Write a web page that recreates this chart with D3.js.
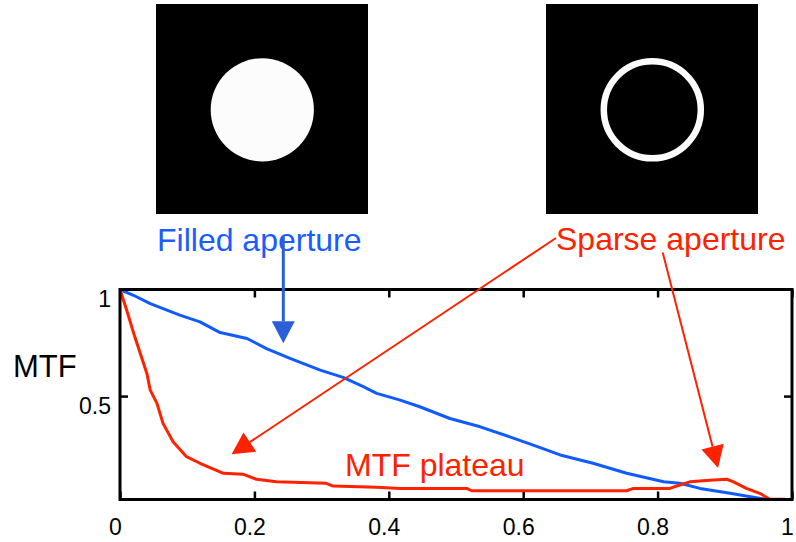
<!DOCTYPE html>
<html>
<head>
<meta charset="utf-8">
<script src="https://cdn.jsdelivr.net/npm/d3@7"></script>
<style>
  html, body { margin: 0; padding: 0; background: #fff; }
  svg { display: block; font-family: "Liberation Sans", Arial, Helvetica, sans-serif; }
</style>
</head>
<body>
<svg width="796" height="542"></svg>
<script>
// spatial frequency (normalised) and MTF
var filledFreq = [0, 0.02, 0.045, 0.089, 0.119, 0.149, 0.189, 0.218, 0.253, 0.298, 0.332, 0.362, 0.382, 0.417,
                  0.446, 0.491, 0.536, 0.58, 0.615, 0.655, 0.704, 0.754, 0.809, 0.833, 0.863, 0.908, 0.938, 0.962, 0.99];
var filledMTF  = [1, 0.973, 0.934, 0.88, 0.848, 0.798, 0.77, 0.723, 0.677, 0.622, 0.588, 0.544, 0.513, 0.481,
                  0.45, 0.395, 0.356, 0.309, 0.27, 0.224, 0.185, 0.138, 0.098, 0.091, 0.067, 0.044, 0.028, 0.015, 0.015];

var sparseFreq = [0, 0.01, 0.022, 0.04, 0.045, 0.055, 0.064, 0.079, 0.099, 0.119, 0.154, 0.183, 0.203, 0.233,
                  0.307, 0.317, 0.382, 0.417, 0.516, 0.523, 0.754, 0.764, 0.818, 0.833, 0.848, 0.883, 0.903,
                  0.913, 0.932, 0.952, 0.967, 0.99];
var sparseMTF  = [1, 0.903, 0.778, 0.606, 0.528, 0.466, 0.372, 0.286, 0.216, 0.185, 0.138, 0.134, 0.11, 0.098,
                  0.091, 0.078, 0.072, 0.067, 0.067, 0.056, 0.056, 0.067, 0.067, 0.083, 0.098, 0.106, 0.11,
                  0.098, 0.067, 0.044, 0.016, 0.016];

var xTicks = [0, 0.2, 0.4, 0.6, 0.8, 1];
var yTicks = [0.5, 1];

(function () {
  var svg = d3.select("svg");

  var pLeft = 120, pRight = 792, pTop = 289.5, pBottom = 499.5;

  var x = d3.scaleLinear().domain([0, 1]).range([pLeft, pRight]);
  var y = d3.scaleLinear().domain([0.015, 1]).range([pBottom, pTop]);

  // aperture pictures
  var pics = svg.append("g");
  pics.append("rect").attr("x", 156).attr("y", 4).attr("width", 212).attr("height", 210).attr("fill", "#000");
  pics.append("circle").attr("cx", 262.3).attr("cy", 109.8).attr("r", 51.6).attr("fill", "#fcfcfc");
  pics.append("rect").attr("x", 546).attr("y", 4).attr("width", 212).attr("height", 210).attr("fill", "#000");
  pics.append("circle").attr("cx", 652.3).attr("cy", 109.8).attr("r", 48.5)
      .attr("fill", "none").attr("stroke", "#fcfcfc").attr("stroke-width", 6.5);

  // axes
  var xb = svg.append("g").attr("transform", "translate(0," + pBottom + ")")
      .call(d3.axisBottom(x).tickValues(xTicks).tickFormat(d3.format("~g")).tickSize(-8));
  var xt = svg.append("g").attr("transform", "translate(0," + pTop + ")")
      .call(d3.axisTop(x).tickValues(xTicks).tickFormat("").tickSize(-8));
  var yl = svg.append("g").attr("transform", "translate(" + pLeft + ",0)")
      .call(d3.axisLeft(y).tickValues(yTicks).tickFormat(d3.format("~g")).tickSize(-8).tickPadding(9));
  var yr = svg.append("g").attr("transform", "translate(" + pRight + ",0)")
      .call(d3.axisRight(y).tickValues([0.5]).tickFormat("").tickSize(-8));

  [xb, xt, yl, yr].forEach(function(g) {
    g.attr("font-size", null).attr("font-family", null);
    g.select(".domain").remove();
    g.selectAll(".tick line").attr("stroke", "#000").attr("stroke-width", 2.5);
    g.selectAll(".tick text").attr("fill", "#000").style("font-size", "23px");
  });
  xb.selectAll(".tick text").attr("y", 19).attr("dx", -5);
  yl.selectAll(".tick text").attr("transform", "translate(0,10)");

  svg.append("text").attr("x", 13).attr("y", 377)
      .style("font-size", "31px").attr("fill", "#000").text("MTF");

  // curves
  var line = d3.line()
      .x(function(d) { return x(d[0]); })
      .y(function(d) { return y(d[1]); });

  svg.append("path")
      .datum(d3.zip(filledFreq, filledMTF))
      .attr("d", line)
      .attr("fill", "none").attr("stroke", "#0f5bff").attr("stroke-width", 3)
      .attr("stroke-linejoin", "round");

  svg.append("path")
      .datum(d3.zip(sparseFreq, sparseMTF))
      .attr("d", line)
      .attr("fill", "none").attr("stroke", "#ff2200").attr("stroke-width", 3)
      .attr("stroke-linejoin", "round");

  // frame
  svg.append("rect")
      .attr("x", pLeft).attr("y", pTop)
      .attr("width", pRight - pLeft).attr("height", pBottom - pTop)
      .attr("fill", "none").attr("stroke", "#000").attr("stroke-width", 3);

  // labels
  svg.append("text").attr("x", 157).attr("y", 251)
      .style("font-size", "32px").attr("fill", "#1a5cff").text("Filled aperture");
  svg.append("text").attr("x", 556).attr("y", 250)
      .style("font-size", "32px").attr("fill", "#ff2200").text("Sparse aperture");
  svg.append("text").attr("x", 345).attr("y", 476)
      .style("font-size", "32px").attr("fill", "#ff2200").text("MTF plateau");

  // arrows
  function arrow(x1, y1, x2, y2, color, w) {
    var len = 22, half = 11.5;
    var dx = x2 - x1, dy = y2 - y1, d = Math.sqrt(dx * dx + dy * dy);
    var ux = dx / d, uy = dy / d;
    var bx = x2 - ux * len, by = y2 - uy * len;
    svg.append("line")
        .attr("x1", x1).attr("y1", y1).attr("x2", bx).attr("y2", by)
        .attr("stroke", color).attr("stroke-width", w);
    svg.append("path")
        .attr("d", "M" + x2 + "," + y2 +
                   "L" + (bx - uy * half) + "," + (by + ux * half) +
                   "L" + (bx + uy * half) + "," + (by - ux * half) + "Z")
        .attr("fill", color);
  }

  arrow(283.3, 237, x(0.243), y(0.748), "#2a5fd8", 3);
  arrow(556, 238, x(0.166), y(0.227), "#ff2200", 2);
  arrow(662.7, 252.5, x(0.89), y(0.163), "#ff2200", 2);
})();
</script>
</body>
</html>
